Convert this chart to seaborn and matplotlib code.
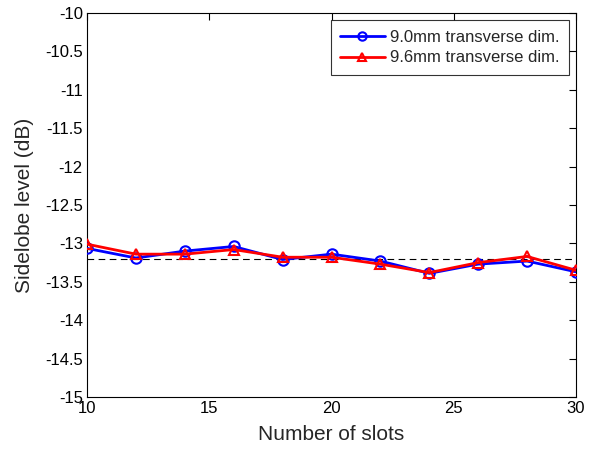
import matplotlib
matplotlib.use("Agg")
import matplotlib.pyplot as plt
import seaborn as sns
import pandas as pd

slots = [10, 12, 14, 16, 18, 20, 22, 24, 26, 28, 30]
sll_90 = [-13.065, -13.19, -13.10, -13.04, -13.21, -13.14, -13.23, -13.39, -13.27, -13.23, -13.37]
sll_96 = [-13.01, -13.14, -13.14, -13.08, -13.18, -13.18, -13.27, -13.38, -13.25, -13.17, -13.35]
reference_level = -13.2
series_names = ["9.0mm transverse dim.", "9.6mm transverse dim."]

sns.set_style("white")
plt.rcParams["font.family"] = ["Liberation Sans", "DejaVu Sans"]

df = pd.DataFrame({
    "slots": slots * 2,
    "sll": sll_90 + sll_96,
    "series": [series_names[0]] * len(slots) + [series_names[1]] * len(slots),
})

W, H = 597, 449
fig = plt.figure(figsize=(W / 100, H / 100), dpi=100)
L, R, T, B = 87, 576, 13, 397
ax = fig.add_axes([L / W, 1 - B / H, (R - L) / W, (B - T) / H])

ax.axhline(reference_level, color="black", linestyle=(0, (6, 4)), linewidth=0.8, zorder=1)

sns.lineplot(data=df, x="slots", y="sll", hue="series", style="series",
             markers={series_names[0]: "o", series_names[1]: "^"}, dashes=False,
             palette={series_names[0]: "#0000ff", series_names[1]: "#ff0000"},
             linewidth=2, markersize=7.5, markeredgewidth=1.5,
             ax=ax, zorder=3)
for line in ax.get_lines()[1:]:
    line.set_markerfacecolor("none")
    line.set_markeredgecolor(line.get_color())

ax.set_xlim(10, 30)
ax.set_ylim(-15, -10)
ax.set_xticks([10, 15, 20, 25, 30])
yt = [-15 + 0.5 * i for i in range(11)]
ax.set_yticks(yt)
ax.set_yticklabels([f"{v:g}" for v in yt])
ax.tick_params(direction="in", length=5, width=0.8, top=True, right=True,
               labelsize=12, colors="black", pad=3)
for s in ax.spines.values():
    s.set_color("black")
    s.set_linewidth(0.8)
ax.set_xlabel("Number of slots", fontsize=15, labelpad=6)
ax.set_ylabel("Sidelobe level (dB)", fontsize=15, labelpad=8)

leg = ax.legend(loc="upper right", fontsize=12, frameon=True, fancybox=False,
                edgecolor="black", borderaxespad=0.45, handlelength=2.7,
                handletextpad=0.3, labelspacing=0.35, borderpad=0.55)
leg.get_frame().set_linewidth(0.8)
for h in leg.get_lines():
    h.set_markerfacecolor("none")
    h.set_markeredgecolor(h.get_color())
    h.set_markersize(6)

fig.savefig("out.png", dpi=100)
